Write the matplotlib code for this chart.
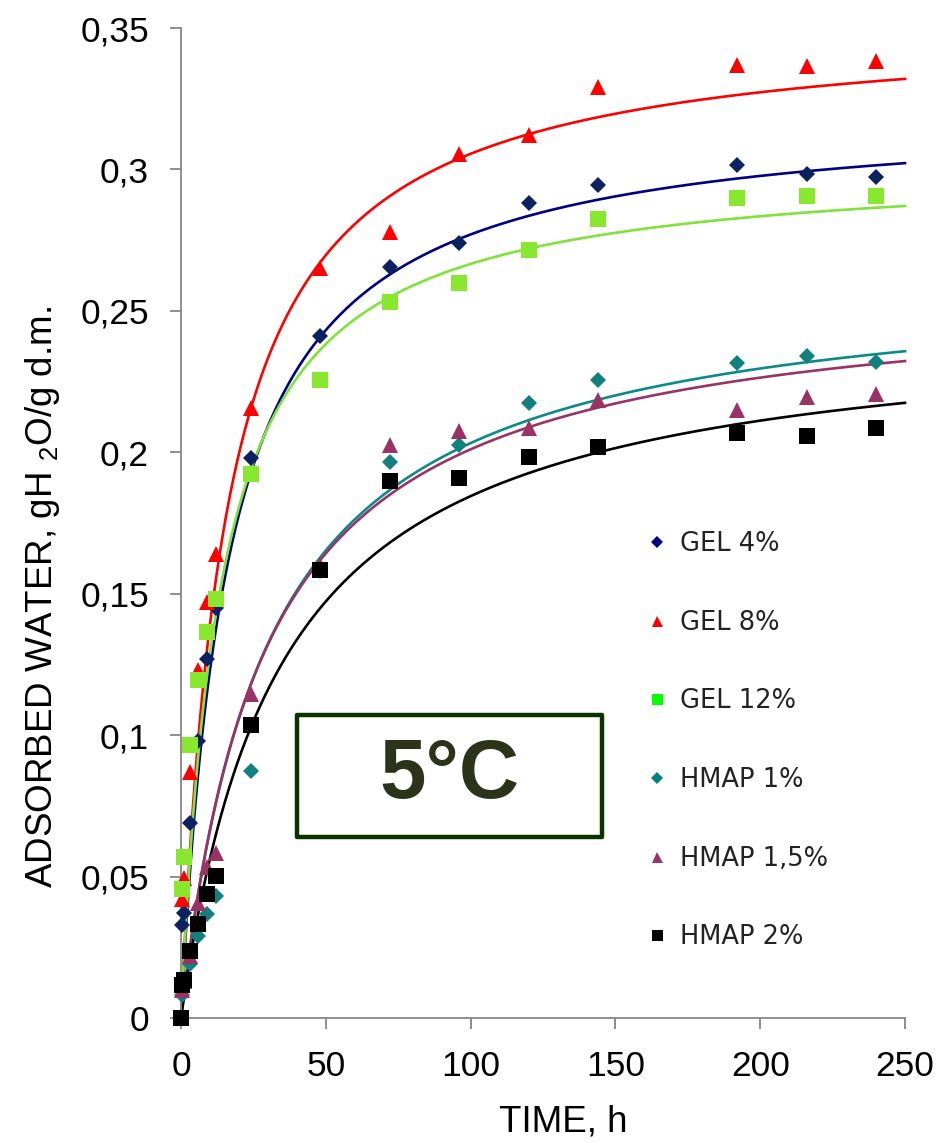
import numpy as np
import matplotlib
matplotlib.use("Agg")
import matplotlib.pyplot as plt
from matplotlib.lines import Line2D
from matplotlib.patches import Rectangle

# Sampling times, h
time_h = [0, 0.5, 1, 3, 6, 9, 12, 24, 48, 72, 96, 120, 144, 192, 216, 240]

# Adsorbed water, g H2O / g d.m.
gel_4 = [0, 0.033, 0.037, 0.069, 0.098, 0.127, 0.145, 0.198, 0.241, 0.2655,
         0.274, 0.288, 0.2945, 0.3015, 0.2985, 0.2975]
gel_8 = [0, 0.042, 0.0495, 0.087, 0.123, 0.147, 0.164, 0.2155, 0.265, 0.278,
         0.3055, 0.312, 0.329, 0.337, 0.3365, 0.3385]
gel_12 = [0, 0.0455, 0.057, 0.0965, 0.1195, 0.1365, 0.148, 0.1925, 0.2255, 0.253,
          0.26, 0.2715, 0.2825, 0.29, 0.2905, 0.2905]
hmap_1 = [0, 0.008, 0.011, 0.019, 0.029, 0.0367, 0.043, 0.0873, 0.158, 0.1965,
          0.2025, 0.2175, 0.2255, 0.2315, 0.234, 0.232]
hmap_15 = [0, 0.010, 0.013, 0.022, 0.0405, 0.0535, 0.0585, 0.1145, 0.160, 0.2025,
           0.2075, 0.2085, 0.2185, 0.215, 0.2195, 0.2205]
hmap_2 = [0, 0.0117, 0.0134, 0.0237, 0.0332, 0.0438, 0.0502, 0.1036, 0.1584, 0.1898,
          0.1909, 0.1983, 0.2018, 0.2068, 0.2058, 0.2086]

series_names = ["GEL 4%", "GEL 8%", "GEL 12%", "HMAP 1%", "HMAP 1,5%", "HMAP 2%"]

# Peleg model W = t / (k1 + k2 t) for each series
peleg_k1 = [50.2, 43.5, 44.6, 113.0, 111.4, 137.0]
peleg_k2 = [3.108, 2.838, 3.305, 3.79, 3.86, 4.05]

x_ticks = [0, 50, 100, 150, 200, 250]
y_ticks = [0, 0.05, 0.1, 0.15, 0.2, 0.25, 0.3, 0.35]
y_tick_labels = ["0", "0,05", "0,1", "0,15", "0,2", "0,25", "0,3", "0,35"]

# marker, marker colour, line colour, marker size, legend colour
styles = [
    ("D", "#0c2260", "#000080", 8.6, "#000080"),
    ("^", "#ff0000", "#ff0000", 11, "#ff0000"),
    ("s", "#88e82f", "#7fe33a", 11, "#00ff00"),
    ("D", "#138080", "#0b8a8a", 8.6, "#008080"),
    ("^", "#993366", "#993366", 11, "#993366"),
    ("s", "#000000", "#000000", 11, "#000000"),
]
all_series = [gel_4, gel_8, gel_12, hmap_1, hmap_15, hmap_2]

fig = plt.figure(figsize=(9.41, 11.43), dpi=100)
ax = fig.add_axes([181 / 941, 1 - 1018 / 1143, 724 / 941, 990 / 1143])

t_fine = np.linspace(0, 250, 600)
for k1, k2, (mk, mcol, lcol, ms, _) in zip(peleg_k1, peleg_k2, styles):
    ax.plot(t_fine, t_fine / (k1 + k2 * t_fine), color=lcol, lw=1.9, zorder=2,
            clip_on=False)
for values, (mk, mcol, lcol, ms, _) in zip(all_series, styles):
    ax.plot(time_h, values, linestyle="none", marker=mk, markersize=ms,
            color=mcol, markeredgewidth=0, zorder=3, clip_on=False)

ax.set_xlim(0, 250)
ax.set_ylim(0, 0.35)
ax.set_xticks(x_ticks)
ax.set_yticks(y_ticks)
ax.set_yticklabels(y_tick_labels)

for side in ["top", "right"]:
    ax.spines[side].set_visible(False)
for side in ["left", "bottom"]:
    ax.spines[side].set_color("#868686")
    ax.spines[side].set_linewidth(1.3)

ax.tick_params(direction="out", length=8, width=1.3, color="#868686",
               labelsize=25.5, pad=15)
for lab in ax.get_xticklabels() + ax.get_yticklabels():
    lab.set_family("Liberation Sans")

# axis titles
fig.text(563 / 941, 1 - 1122 / 1143, "TIME, h", ha="center", va="center",
         fontsize=26.5, family="Liberation Sans")
fig.text(43 / 941, 1 - 597 / 1143, r"ADSORBED WATER, gH $\mathregular{_2}$O/g d.m.",
         ha="center", va="center", rotation=90, fontsize=26.5,
         family="Liberation Sans")

# temperature box
ax.add_patch(Rectangle((0.160, 0.183), 0.4215, 0.123, transform=ax.transAxes,
                       fill=False, edgecolor="#0a3300", linewidth=3.2,
                       joinstyle="round", zorder=4, clip_on=False))
ax.text(0.371, 0.2445, "5°C", transform=ax.transAxes, ha="center", va="center",
        fontsize=60, fontweight="bold", color="#2d3319",
        family="Liberation Sans", zorder=5)

# legend
handles = [Line2D([], [], linestyle="none", marker=mk, markersize=ms * 0.72,
                  color=lgcol, markeredgewidth=0)
           for (mk, _, _, ms, lgcol) in styles]
leg = ax.legend(handles, series_names, loc="upper left",
                bbox_to_anchor=((644 - 181) / 724, (1018 - 531) / 990),
                frameon=False, handlelength=1.0, handletextpad=0.4,
                borderpad=0, borderaxespad=0, labelspacing=2.05,
                prop={"family": "DejaVu Sans", "size": 18.5})
for txt in leg.get_texts():
    txt.set_color("#222222")

fig.savefig("out.png", dpi=100)
